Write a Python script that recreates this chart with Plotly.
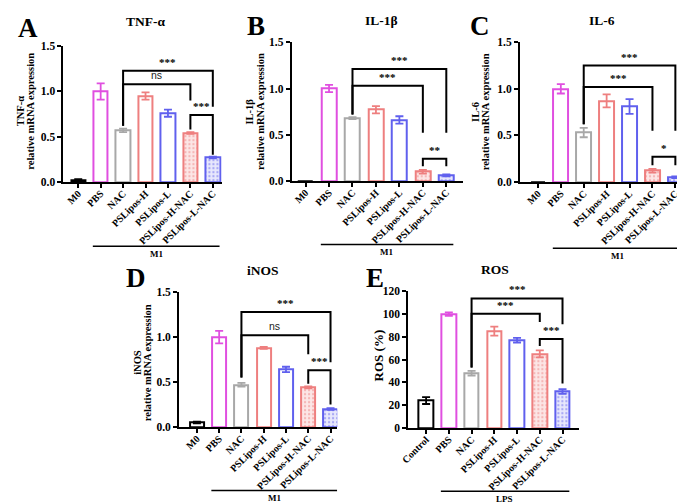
import plotly.graph_objects as go

W, H = 685, 504

# ---------------- data ----------------
mrna_groups = ["M0", "PBS", "NAC", "PSLipos-H", "PSLipos-L", "PSLipos-H-NAC", "PSLipos-L-NAC"]
ros_groups = ["Control", "PBS", "NAC", "PSLipos-H", "PSLipos-L", "PSLipos-H-NAC", "PSLipos-L-NAC"]

tnf_mean = [0.02, 1.00, 0.57, 0.95, 0.76, 0.54, 0.27]
tnf_err = [0.01, 0.09, 0.02, 0.04, 0.04, 0.01, 0.01]
il1b_mean = [0.0, 1.00, 0.68, 0.77, 0.66, 0.10, 0.06]
il1b_err = [0.0, 0.04, 0.01, 0.04, 0.04, 0.02, 0.01]
il6_mean = [0.0, 1.00, 0.53, 0.87, 0.81, 0.12, 0.05]
il6_err = [0.0, 0.05, 0.05, 0.07, 0.08, 0.02, 0.01]
inos_mean = [0.05, 1.00, 0.47, 0.88, 0.64, 0.44, 0.20]
inos_err = [0.01, 0.07, 0.02, 0.01, 0.03, 0.01, 0.01]
ros_mean = [24, 100, 48, 85, 77, 65, 32]
ros_err = [3, 1.5, 2, 4, 2, 3, 2]

# significance brackets: (from, to, bar height, left drop, right drop, label)
tnf_sig = [(2, 6, 1.23, 0.62, 0.83, "***"), (2, 5, 1.08, 0.62, 0.90, "ns"), (5, 6, 0.74, 0.58, 0.30, "***")]
il1b_sig = [(2, 6, 1.21, 0.72, 0.52, "***"), (2, 5, 1.03, 0.72, 0.52, "***"), (5, 6, 0.24, 0.16, 0.16, "**")]
il6_sig = [(2, 6, 1.25, 0.62, 0.55, "***"), (2, 5, 1.02, 0.62, 0.55, "***"), (5, 6, 0.27, 0.18, 0.18, "*")]
inos_sig = [(2, 6, 1.28, 0.55, 0.72, "***"), (2, 5, 1.02, 0.55, 0.81, "ns"), (5, 6, 0.63, 0.48, 0.25, "***")]
ros_sig = [(2, 6, 113.7, 53, 91, "***"), (2, 5, 100.3, 53, 93, "***"), (5, 6, 78, 72, 39, "***")]

# ---------------- styles ----------------
colors = ["#000000", "#E04FE0", "#A8A8A8", "#EE7F7F", "#6060EE", "#EE7F7F", "#6060EE"]
pat_bg = [None, None, None, None, None, "#FCE6E6", "#E8E8FC"]
SERIF = "Liberation Serif"

panels = [
    dict(letter="A", title="TNF-α", ylab=["TNF-α", "relative mRNA expression"], groups=mrna_groups,
         mean=tnf_mean, err=tnf_err, sig=tnf_sig, ymax=1.5, ystep=0.5, fmt="{:.1f}",
         px=(48, 208), py=(33, 172), xr=(-0.66, 6.39), grp="M1", gy=238,
         lab=(10, 100), let=(12, 14), tit=(131, 8)),
    dict(letter="B", title="IL-1β", ylab=["IL-1β", "relative mRNA expression"], groups=mrna_groups,
         mean=il1b_mean, err=il1b_err, sig=il1b_sig, ymax=1.5, ystep=0.5, fmt="{:.1f}",
         px=(279, 452), py=(29, 171), xr=(-0.59, 6.7), grp="M1", gy=236,
         lab=(242, 100), let=(243, 12), tit=(370, 7)),
    dict(letter="C", title="IL-6", ylab=["IL-6", "relative mRNA expression"], groups=mrna_groups,
         mean=il6_mean, err=il6_err, sig=il6_sig, ymax=1.5, ystep=0.5, fmt="{:.1f}",
         px=(510, 685), py=(29, 172), xr=(-0.78, 6.77), grp="M1", gy=240,
         lab=(470, 100), let=(469, 12), tit=(593, 7)),
    dict(letter="D", title="iNOS", ylab=["iNOS", "relative mRNA expression"], groups=mrna_groups,
         mean=inos_mean, err=inos_err, sig=inos_sig, ymax=1.5, ystep=0.5, fmt="{:.1f}",
         px=(165, 325), py=(285, 423), xr=(-0.8, 6.3), grp="M1", gy=488,
         lab=(128, 357), let=(121, 270), tit=(250, 263)),
    dict(letter="E", title="ROS", ylab=["ROS (%)"], groups=ros_groups,
         mean=ros_mean, err=ros_err, sig=ros_sig, ymax=120, ystep=20, fmt="{:.0f}",
         px=(397, 570), py=(284, 424), xr=(-0.78, 6.74), grp="LPS", gy=489,
         lab=(367, 350), let=(363, 270), tit=(485, 262)),
]

fig = go.Figure()
annotations = []
shapes = []

for i, p in enumerate(panels):
    n = "" if i == 0 else str(i + 1)
    xa, ya = "x" + n, "y" + n
    for k, g in enumerate(p["groups"]):
        c = colors[k]
        marker = dict(color="white", line=dict(color=c, width=2))
        if pat_bg[k]:
            marker["pattern"] = dict(shape=".", fgcolor=c, bgcolor=pat_bg[k], size=4, solidity=0.25)
        fig.add_trace(go.Bar(
            x=[k], y=[p["mean"][k]], width=0.64, marker=marker,
            error_y=dict(type="data", array=[p["err"][k]], color=c, thickness=1.8, width=4,
                         visible=p["err"][k] > 0),
            xaxis=xa, yaxis=ya, showlegend=False, hoverinfo="skip"))
    x0, x1 = p["px"]
    ytop, ybot = p["py"]
    fig.layout["xaxis" + n] = dict(
        domain=[x0 / W, x1 / W], range=list(p["xr"]), anchor=ya,
        tickvals=list(range(7)), ticktext=["<b>%s</b>" % g for g in p["groups"]],
        tickangle=-45, ticks="outside", ticklen=4, tickwidth=2, tickcolor="black",
        ticklabelstandoff=-4,
        showline=True, linecolor="black", linewidth=2, showgrid=False, zeroline=False,
        tickfont=dict(family=SERIF, size=10, color="black"), fixedrange=True)
    tv = []
    v = 0
    while v <= p["ymax"] + 1e-9:
        tv.append(v)
        v += p["ystep"]
    fig.layout["yaxis" + n] = dict(
        domain=[1 - ybot / H, 1 - ytop / H], range=[0, p["ymax"]], anchor=xa,
        tickvals=tv, ticktext=["<b>%s</b>" % p["fmt"].format(t) for t in tv],
        ticks="outside", ticklen=4, tickwidth=2, tickcolor="black",
        showline=True, linecolor="black", linewidth=2, showgrid=False, zeroline=False,
        tickfont=dict(family=SERIF, size=11.5, color="black"), fixedrange=True)

    # significance brackets
    for (a, b, h, da, db, lab) in p["sig"]:
        shapes.append(dict(type="path", xref=xa, yref=ya,
                           path="M %s,%s L %s,%s L %s,%s L %s,%s" % (a, da, a, h, b, h, b, db),
                           line=dict(color="black", width=2)))
        if lab == "ns":
            font = dict(family="Liberation Sans", size=10.5, color="#222222")
            txt = lab
        else:
            font = dict(family=SERIF, size=11, color="black")
            txt = "<b>%s</b>" % lab
        annotations.append(dict(x=(a + b) / 2, y=h, xref=xa, yref=ya, text=txt, showarrow=False,
                                yanchor="bottom", yshift=1, font=font))

    # group line (M1 / LPS)
    shapes.append(dict(type="line", xref=xa, yref="paper", x0=0.65, x1=6.3,
                       y0=1 - p["gy"] / H, y1=1 - p["gy"] / H, line=dict(color="black", width=1.5)))
    annotations.append(dict(x=3.47, y=1 - (p["gy"] + 7.5) / H, xref=xa, yref="paper",
                            text="<b>%s</b>" % p["grp"], showarrow=False, yanchor="middle",
                            borderpad=0, font=dict(family=SERIF, size=9, color="black")))
    # y label (one annotation per line)
    nl = len(p["ylab"])
    for j, line in enumerate(p["ylab"]):
        xc = p["lab"][0] + (j - (nl - 1) / 2) * 10.5
        annotations.append(dict(x=xc / W, y=1 - p["lab"][1] / H, xref="paper", yref="paper",
                                text="<b>%s</b>" % line, textangle=-90, showarrow=False,
                                xanchor="center", yanchor="middle",
                                font=dict(family=SERIF, size=10.5 if nl > 1 else 13, color="black")))
    # title
    annotations.append(dict(x=p["tit"][0] / W, y=1 - p["tit"][1] / H, xref="paper", yref="paper",
                            text="<b>%s</b>" % p["title"], showarrow=False,
                            xanchor="center", yanchor="middle",
                            font=dict(family=SERIF, size=13.5, color="black")))
    # letter
    annotations.append(dict(x=p["let"][0] / W, y=1 - p["let"][1] / H, xref="paper", yref="paper",
                            text="<b>%s</b>" % p["letter"], showarrow=False,
                            xanchor="center", yanchor="middle",
                            font=dict(family=SERIF, size=27, color="black")))

fig.update_layout(width=W, height=H, margin=dict(l=0, r=0, t=0, b=0),
                  paper_bgcolor="white", plot_bgcolor="white",
                  annotations=annotations, shapes=shapes, bargap=0)
fig.write_html("out.html")
